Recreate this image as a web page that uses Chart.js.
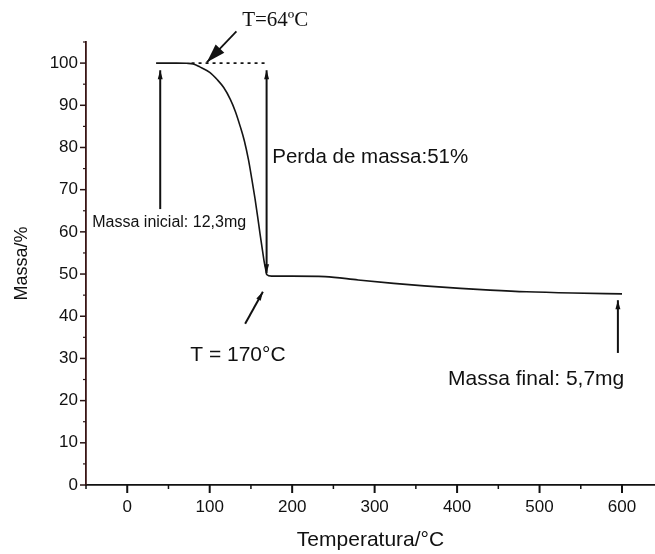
<!DOCTYPE html>
<html>
<head>
<meta charset="utf-8">
<script src="https://cdn.jsdelivr.net/npm/chart.js@4.4.1/dist/chart.umd.min.js"></script>
<style>
  html, body { margin: 0; padding: 0; background: #fff; }
  canvas { display: block; }
</style>
</head>
<body>
<canvas id="c" width="655" height="554"></canvas>
<script>
// ---- data ----
const temperature = [35, 50, 60, 72, 80, 88, 100, 109, 117, 125, 131, 137, 142, 147, 151, 155, 158, 161, 164, 166, 168, 169, 175, 200, 240, 280, 323, 360, 404, 440, 484, 540, 600];
const mass        = [100, 100, 100, 99.95, 99.8, 99.1, 97.8, 96.1, 94.2, 91.4, 88.6, 85.0, 81.6, 77.1, 72.6, 67.8, 63.8, 59.6, 55.6, 53.0, 51.0, 49.9, 49.5, 49.5, 49.4, 48.6, 47.8, 47.2, 46.6, 46.2, 45.8, 45.5, 45.3];
const plateauT    = [78, 169];
const plateauMass = [100, 100];
const xTickValues = [0, 100, 200, 300, 400, 500, 600];
const yTickValues = [0, 10, 20, 30, 40, 50, 60, 70, 80, 90, 100];
const xLabel = 'Temperatura/°C';
const yLabel = 'Massa/%';

// annotation arrows (data coordinates: x in °C, y in %)
const arrowFrom = [[40, 65.4], [169, 98.3], [143, 38.2], [595, 31.3], [132.4, 107.5]];
const arrowTo   = [[40, 98.3], [169, 50.2], [164.5, 45.8], [595, 43.8], [96.5, 100.2]];
const arrowBothEnds = [false, true, false, false, false];
const arrowBig      = [false, false, false, false, true];
// annotation texts (left anchor, vertical centre; data coordinates)
const noteTexts = ['T=64ºC', 'Massa inicial: 12,3mg', 'Perda de massa:51%', 'T = 170°C', 'Massa final: 5,7mg'];
const noteX     = [139.4, -42.4, 175.8, 76.4, 389];
const noteY     = [110.1, 62.1, 77.7, 30.8, 25.1];

const SANS = '"Liberation Sans", Arial, Helvetica, sans-serif';
const SERIF = '"Liberation Serif", "Times New Roman", serif';
const noteFonts = ['21px ' + SERIF, '16px ' + SANS, '20.5px ' + SANS, '21px ' + SANS, '21px ' + SANS];

function arrowHead(ctx, fx, fy, tx, ty, len, wid) {
  const a = Math.atan2(ty - fy, tx - fx);
  ctx.beginPath();
  ctx.moveTo(tx, ty);
  ctx.lineTo(tx - len * Math.cos(a) + wid / 2 * Math.sin(a), ty - len * Math.sin(a) - wid / 2 * Math.cos(a));
  ctx.lineTo(tx - len * Math.cos(a) - wid / 2 * Math.sin(a), ty - len * Math.sin(a) + wid / 2 * Math.cos(a));
  ctx.closePath();
  ctx.fill();
}

const decorPlugin = {
  id: 'decor',
  afterDraw(chart) {
    const ctx = chart.ctx;
    const xs = chart.scales.x, ys = chart.scales.y;
    const x0 = xs.getPixelForValue(xs.min);
    const yb = ys.getPixelForValue(0);
    ctx.save();
    // x ticks (major every 100, minor every 50)
    ctx.strokeStyle = '#111';
    for (let v = -50; v <= xs.max; v += 50) {
      const px = xs.getPixelForValue(v);
      const major = v % 100 === 0;
      ctx.lineWidth = major ? 2 : 1.5;
      ctx.beginPath();
      ctx.moveTo(px, yb);
      ctx.lineTo(px, yb + (major ? 8 : 4));
      ctx.stroke();
    }
    // y ticks (major every 10, minor every 5)
    ctx.strokeStyle = '#2a1414';
    for (let v = 0; v <= ys.max; v += 5) {
      const py = ys.getPixelForValue(v);
      const major = v % 10 === 0;
      ctx.lineWidth = major ? 1.5 : 1.2;
      ctx.beginPath();
      ctx.moveTo(x0, py);
      ctx.lineTo(x0 - (major ? 6 : 3), py);
      ctx.stroke();
    }
    // arrows
    ctx.strokeStyle = '#111';
    ctx.fillStyle = '#111';
    for (let i = 0; i < arrowFrom.length; i++) {
      const fx = xs.getPixelForValue(arrowFrom[i][0]);
      const fy = ys.getPixelForValue(arrowFrom[i][1]);
      const tx = xs.getPixelForValue(arrowTo[i][0]);
      const ty = ys.getPixelForValue(arrowTo[i][1]);
      ctx.lineWidth = arrowBig[i] ? 1.8 : 2;
      ctx.beginPath();
      ctx.moveTo(fx, fy);
      ctx.lineTo(tx, ty);
      ctx.stroke();
      if (arrowBig[i]) {
        arrowHead(ctx, fx, fy, tx, ty, 19, 12);
      } else {
        arrowHead(ctx, fx, fy, tx, ty, 9, 5);
        if (arrowBothEnds[i]) arrowHead(ctx, tx, ty, fx, fy, 9, 5);
      }
    }
    // texts
    ctx.textBaseline = 'middle';
    ctx.textAlign = 'left';
    ctx.fillStyle = '#111';
    for (let i = 0; i < noteTexts.length; i++) {
      ctx.font = noteFonts[i];
      ctx.fillText(noteTexts[i], xs.getPixelForValue(noteX[i]), ys.getPixelForValue(noteY[i]));
    }
    ctx.restore();
  }
};

new Chart(document.getElementById('c'), {
  type: 'line',
  data: {
    datasets: [
      {
        data: temperature.map((t, i) => ({ x: t, y: mass[i] })),
        borderColor: '#151515',
        borderWidth: 1.6,
        pointRadius: 0,
        cubicInterpolationMode: 'monotone',
        fill: false
      },
      {
        data: plateauT.map((t, i) => ({ x: t, y: plateauMass[i] })),
        borderColor: '#151515',
        borderWidth: 1.6,
        borderDash: [3, 4],
        pointRadius: 0,
        fill: false
      }
    ]
  },
  options: {
    responsive: false,
    animation: false,
    events: [],
    layout: { padding: { left: 0, right: 0, top: 42, bottom: 0 } },
    plugins: { legend: { display: false }, tooltip: { enabled: false } },
    scales: {
      x: {
        type: 'linear',
        min: -50,
        max: 640,
        afterFit(s) { s.height = 69; },
        grid: { drawOnChartArea: false, drawTicks: true, tickLength: 8, tickColor: 'rgba(0,0,0,0)' },
        border: { display: true, color: '#111', width: 1.8 },
        afterBuildTicks(s) { s.ticks = xTickValues.map(v => ({ value: v })); },
        ticks: {
          autoSkip: false,
          maxRotation: 0,
          padding: 4,
          color: '#111',
          font: { family: SANS, size: 17 },
          callback: v => String(v)
        },
        title: {
          display: true,
          text: xLabel,
          color: '#111',
          font: { family: SANS, size: 21 },
          padding: { top: 2, bottom: 1 }
        }
      },
      y: {
        min: 0,
        max: 105,
        afterFit(s) { s.width = 86; },
        grid: { drawOnChartArea: false, drawTicks: true, tickLength: 5, tickColor: 'rgba(0,0,0,0)' },
        border: { display: true, color: '#3a1616', width: 1.8 },
        afterBuildTicks(s) { s.ticks = yTickValues.map(v => ({ value: v })); },
        ticks: {
          autoSkip: false,
          padding: 3,
          color: '#111',
          font: { family: SANS, size: 17 },
          callback: v => String(v)
        },
        title: {
          display: true,
          text: yLabel,
          color: '#111',
          font: { family: SANS, size: 18 },
          padding: { top: 11, bottom: 0 }
        }
      }
    }
  },
  plugins: [decorPlugin]
});
</script>
</body>
</html>
